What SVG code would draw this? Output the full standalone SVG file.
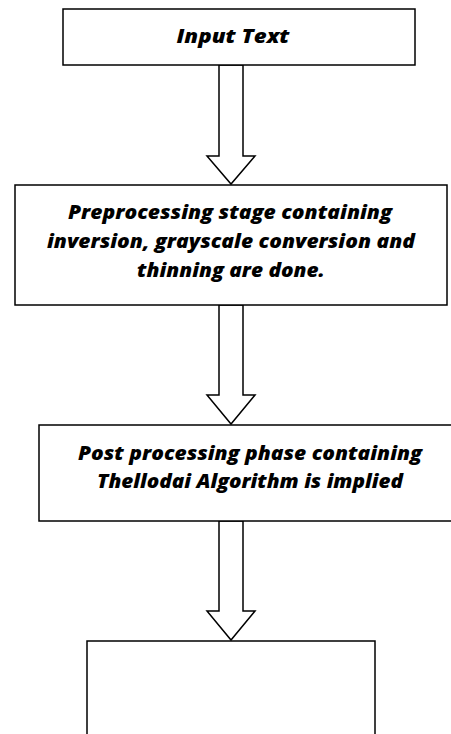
<svg xmlns="http://www.w3.org/2000/svg" width="451" height="734" viewBox="0 0 451 734">
<style>
.box{fill:#fff;stroke:#000;stroke-width:1.5}
.arr{fill:#fff;stroke:#000;stroke-width:1.5;stroke-linejoin:miter}
text{font-family:"Open Sans","Liberation Sans",sans-serif;font-weight:800;font-style:italic;font-size:20px;fill:#000;text-anchor:middle}
</style>
<rect width="451" height="734" fill="#fff"/>
<g id="connectors">
<polygon class="arr" points="219,65 243,65 243,156 255,156 231,184 207,156 219,156 219,65"/>
<polygon class="arr" points="219,305 243,305 243,395 255,395 231,424 207,395 219,395 219,305"/>
<polygon class="arr" points="219,521 243,521 243,611 255,611 231,640 207,611 219,611 219,521"/>
</g>
<g id="n1">
<rect class="box" x="63" y="9" width="352" height="56"/>
<text x="233" y="43" textLength="113" lengthAdjust="spacingAndGlyphs">Input Text</text>
</g>
<g id="n2">
<rect class="box" x="15" y="185" width="432" height="120"/>
<text x="230" y="219" textLength="324" lengthAdjust="spacingAndGlyphs">Preprocessing stage containing</text>
<text x="231" y="248" textLength="368" lengthAdjust="spacingAndGlyphs">inversion, grayscale conversion and</text>
<text x="231" y="277" textLength="188" lengthAdjust="spacingAndGlyphs">thinning are done.</text>
</g>
<g id="n3">
<rect class="box" x="39" y="425" width="430" height="96"/>
<text x="250" y="460" textLength="344" lengthAdjust="spacingAndGlyphs">Post processing phase containing</text>
<text x="250" y="488" textLength="306" lengthAdjust="spacingAndGlyphs">Thellodai Algorithm is implied</text>
</g>
<g id="n4">
<rect class="box" x="87" y="641" width="288" height="110"/>
</g>
</svg>
